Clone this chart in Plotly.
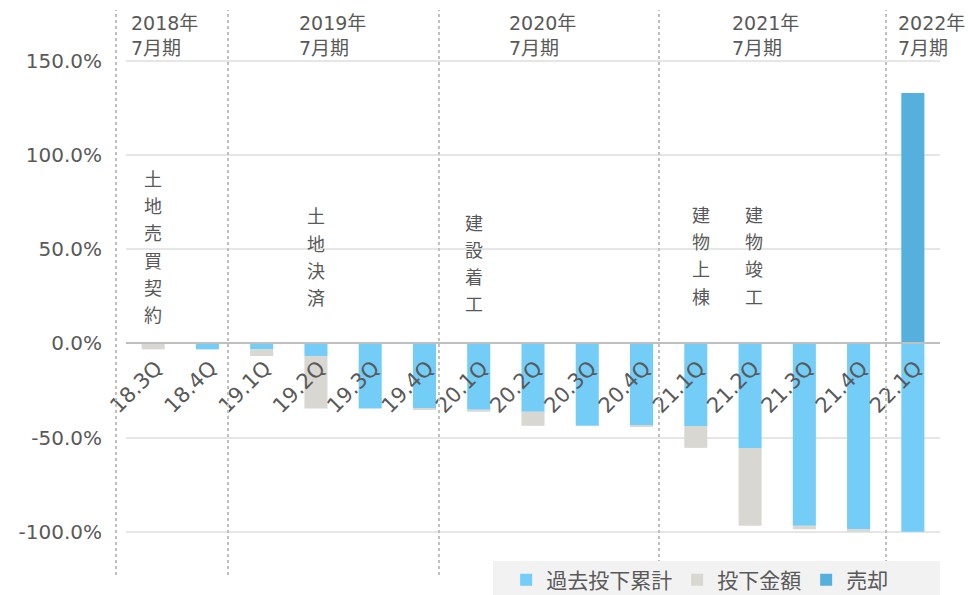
'''Investment vs sale timeline chart (quarterly, stacked bars)'''

#%% Imports

import plotly.graph_objects as go


#%% Data

quarters = ['18.3Q', '18.4Q', '19.1Q', '19.2Q', '19.3Q', '19.4Q', '20.1Q',
            '20.2Q', '20.3Q', '20.4Q', '21.1Q', '21.2Q', '21.3Q', '21.4Q',
            '22.1Q']

# 過去投下累計 (cumulative past investment)
past_total = [0.0, -0.032, -0.032, -0.067, -0.346, -0.346, -0.352,
              -0.363, -0.438, -0.438, -0.439, -0.555, -0.969, -0.987,
              -1.000]

# 投下金額 (investment in the quarter)
invested = [-0.032, 0.0, -0.035, -0.279, 0.0, -0.006, -0.011,
            -0.075, 0.0, -0.001, -0.116, -0.414, -0.018, -0.013,
            0.0]

# 売却 (sale)
sale = [None] * 14 + [1.329]

y_tick_vals = [-1.0, -0.5, 0.0, 0.5, 1.0, 1.5]
y_tick_text = ['-100.0%', '-50.0%', '0.0%', '50.0%', '100.0%', '150.0%']

fiscal_years = ['2018年<br>7月期', '2019年<br>7月期', '2020年<br>7月期',
                '2021年<br>7月期', '2022年<br>7月期']

milestones = ['土地売買契約', '土地決済', '建設着工', '建物上棟', '建物竣工', '売却']


#%% Layout settings

font_family = 'DejaVu Sans, Noto Sans CJK JP'
text_color = '#595959'
y_range = [-1.23, 1.77]
zero_pos = -y_range[0] / (y_range[1] - y_range[0])

year_label_x = [0.0037, 0.210, 0.468, 0.742, 0.946]
year_sep_x = [-0.0123, 0.1253, 0.3845, 0.6548, 0.9337]

# (x position on category index, y of first character)
milestone_pos = [(0.0, 0.872), (3.0, 0.671), (5.91, 0.639),
                 (10.1, 0.681), (11.07, 0.681), (14.6, 0.161)]
char_pitch = 27.3


#%% Figure

fig = go.Figure()

fig.add_trace(go.Bar(x=quarters,
                     y=past_total,
                     name='過去投下累計',
                     marker=dict(color='#73cdf7', line=dict(width=0))))

fig.add_trace(go.Bar(x=quarters,
                     y=invested,
                     name='投下金額',
                     marker=dict(color='#d9d7d2', line=dict(width=0))))

fig.add_trace(go.Bar(x=quarters,
                     y=sale,
                     name='売却',
                     marker=dict(color='#56b0dd', line=dict(width=0))))

# fiscal year separators
for xs in year_sep_x:
    fig.add_shape(type='line', xref='paper', yref='paper',
                  x0=xs, x1=xs, y0=0, y1=1,
                  line=dict(color='#bfbfbf', width=2, dash='dot'))

# legend background
fig.add_shape(type='rect', xref='paper', yref='paper',
              x0=0.4509, x1=1.0, y0=-0.0354, y1=0.0248,
              fillcolor='#f2f2f2', line=dict(width=0), layer='above')

for label, xl in zip(fiscal_years, year_label_x):
    fig.add_annotation(x=xl, y=1.0, xref='paper', yref='paper',
                       text=label, showarrow=False,
                       xanchor='left', yanchor='top', align='left',
                       font=dict(size=19, color=text_color, family=font_family))

for text, (xm, ym) in zip(milestones, milestone_pos):
    for i, ch in enumerate(text):
        fig.add_annotation(x=xm, y=ym, text=ch, showarrow=False,
                           yshift=-i * char_pitch,
                           xanchor='center', yanchor='middle',
                           font=dict(size=18, color=text_color,
                                     family=font_family))

fig.update_layout(barmode='relative',
                  bargap=0.575,
                  width=971,
                  height=595,
                  margin=dict(l=126, r=31, t=10, b=20, autoexpand=False),
                  plot_bgcolor='white',
                  paper_bgcolor='white',
                  font=dict(family=font_family, color=text_color, size=20),
                  hovermode=False,
                  legend=dict(orientation='h',
                              x=0.467, xanchor='left',
                              y=-0.009, yanchor='middle',
                              bgcolor='rgba(0,0,0,0)',
                              font=dict(size=21, color=text_color),
                              traceorder='normal'))

fig.update_xaxes(type='category',
                 range=[-0.5, 14.5],
                 anchor='free',
                 position=zero_pos,
                 showline=True,
                 linecolor='#bfbfbf',
                 linewidth=2,
                 showgrid=False,
                 ticks='',
                 tickangle=-45,
                 ticklabelstandoff=3,
                 ticklabelshift=3,
                 tickfont=dict(size=21, color=text_color))

fig.update_yaxes(range=y_range,
                 tickvals=y_tick_vals,
                 ticktext=y_tick_text,
                 showgrid=True,
                 gridcolor='#e6e6e6',
                 gridwidth=1.5,
                 zeroline=False,
                 showline=False,
                 ticks='',
                 ticklabelstandoff=23,
                 tickfont=dict(size=20, color=text_color))

# page body has a default 8px margin; drop it so the chart fills the window
fig.write_html('out.html',
               config={'displayModeBar': False},
               post_script="document.body.style.margin = '0';")
